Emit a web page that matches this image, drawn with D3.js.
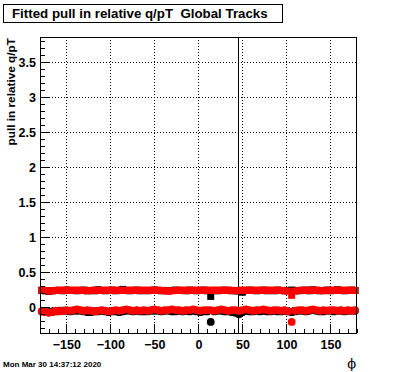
<!DOCTYPE html>
<html>
<head>
<meta charset="utf-8">
<script src="https://cdn.jsdelivr.net/npm/d3@7"></script>
<style>
  html, body { margin: 0; padding: 0; background: #fff; }
  svg { display: block; }
  text { font-family: "Liberation Sans", Arial, Helvetica, sans-serif; }
</style>
</head>
<body>
<svg id="chart" width="396" height="372"></svg>
<script>
// ---------------- data ----------------
const chartTitle = "Fitted pull in relative q/pT  Global Tracks";
const yTitle = "pull in relative q/pT";
const xTitle = "\u03d5";
const dateText = "Mon Mar 30 14:37:12 2020";

const xDomain = [-180, 180];
const yDomain = [-0.371, 3.861];
const xMajorTicks = [-150, -100, -50, 0, 50, 100, 150];
const yMajorTicks = [0, 0.5, 1, 1.5, 2, 2.5, 3, 3.5];
const markerLinePhi = 45;

// bin centres: 90 bins of 4 degrees
const phiStart = -178, phiStep = 4, nBins = 90;
const phiBins = d3.range(nBins).map(i => phiStart + i * phiStep);

// black series (circles = fitted mean, squares = fitted sigma)
const blackMean = [
  -0.06,-0.07,-0.07,-0.06,-0.06,-0.05,-0.05,-0.05,-0.06,-0.05,
  -0.05,-0.05,-0.06,-0.07,-0.07,-0.06,-0.06,-0.05,-0.06,-0.07,
  -0.06,-0.06,-0.07,-0.06,-0.05,-0.05,-0.06,-0.05,-0.06,-0.06,
  -0.06,-0.05,-0.05,-0.05,-0.06,-0.05,-0.05,-0.06,-0.06,-0.05,
  -0.06,-0.05,-0.06,-0.05,-0.06,-0.07,-0.06,-0.06,-0.21,-0.06,
  -0.05,-0.05,-0.06,-0.06,-0.07,-0.08,-0.10,-0.07,-0.05,-0.06,
  -0.06,-0.05,-0.06,-0.05,-0.06,-0.06,-0.05,-0.06,-0.06,-0.05,
  -0.06,-0.07,-0.06,-0.05,-0.05,-0.06,-0.05,-0.04,-0.05,-0.06,
  -0.06,-0.05,-0.05,-0.06,-0.05,-0.05,-0.06,-0.05,-0.05,-0.05
];
const blackSigma = [
  0.24,0.235,0.225,0.235,0.24,0.24,0.235,0.245,0.24,0.24,
  0.235,0.24,0.245,0.235,0.24,0.235,0.25,0.24,0.235,0.24,
  0.245,0.235,0.24,0.255,0.24,0.235,0.24,0.245,0.235,0.24,
  0.235,0.24,0.245,0.24,0.235,0.24,0.235,0.24,0.245,0.24,
  0.24,0.235,0.245,0.24,0.235,0.24,0.245,0.235,0.155,0.24,
  0.235,0.24,0.245,0.24,0.235,0.24,0.23,0.215,0.24,0.245,
  0.24,0.235,0.24,0.245,0.235,0.24,0.235,0.245,0.24,0.235,
  0.24,0.245,0.24,0.235,0.24,0.245,0.235,0.25,0.24,0.235,
  0.24,0.245,0.235,0.24,0.25,0.24,0.235,0.24,0.245,0.24
];
// red series
const redMean = [
  -0.06,-0.07,-0.08,-0.07,-0.05,-0.06,-0.05,-0.04,-0.05,-0.04,
  -0.03,-0.04,-0.05,-0.04,-0.05,-0.06,-0.05,-0.04,-0.05,-0.06,
  -0.05,-0.04,-0.05,-0.04,-0.03,-0.04,-0.05,-0.04,-0.05,-0.04,
  -0.05,-0.04,-0.03,-0.04,-0.05,-0.04,-0.04,-0.03,-0.04,-0.04,
  -0.05,-0.04,-0.04,-0.03,-0.04,-0.05,-0.04,-0.04,-0.04,-0.05,
  -0.04,-0.03,-0.04,-0.05,-0.04,-0.04,-0.05,-0.04,-0.03,-0.04,
  -0.05,-0.04,-0.04,-0.03,-0.04,-0.05,-0.04,-0.04,-0.05,-0.04,
  -0.06,-0.21,-0.05,-0.04,-0.04,-0.05,-0.04,-0.03,-0.04,-0.05,
  -0.04,-0.05,-0.04,-0.04,-0.05,-0.04,-0.05,-0.04,-0.05,-0.04
];
const redSigma = [
  0.245,0.24,0.23,0.235,0.24,0.245,0.24,0.245,0.24,0.245,
  0.24,0.245,0.24,0.235,0.24,0.245,0.24,0.24,0.245,0.24,
  0.245,0.24,0.245,0.24,0.24,0.245,0.24,0.245,0.24,0.245,
  0.24,0.245,0.24,0.245,0.24,0.235,0.23,0.235,0.24,0.245,
  0.24,0.245,0.24,0.245,0.24,0.245,0.24,0.245,0.24,0.245,
  0.24,0.245,0.24,0.245,0.24,0.235,0.24,0.245,0.24,0.245,
  0.24,0.245,0.24,0.245,0.24,0.245,0.24,0.245,0.24,0.235,
  0.23,0.17,0.23,0.24,0.245,0.24,0.245,0.24,0.245,0.24,
  0.235,0.24,0.245,0.24,0.245,0.24,0.245,0.24,0.245,0.24
];

// ---------------- layout ----------------
const svg = d3.select("#chart");
const W = 396, H = 372;
const plot = { left: 40, right: 356.8, top: 37, bottom: 333.2 };

svg.append("rect").attr("width", W).attr("height", H).attr("fill", "#fff");

const x = d3.scaleLinear().domain(xDomain).range([plot.left, plot.right]);
const y = d3.scaleLinear().domain(yDomain).range([plot.bottom, plot.top]);

// grid
const grid = svg.append("g").attr("stroke", "#000").attr("stroke-width", 1)
  .attr("stroke-dasharray", "1,2").attr("shape-rendering", "crispEdges");
grid.selectAll("line.gx").data(xMajorTicks).join("line")
  .attr("x1", d => Math.round(x(d)) + 0.5).attr("x2", d => Math.round(x(d)) + 0.5)
  .attr("y1", plot.top).attr("y2", plot.bottom);
grid.selectAll("line.gy").data(yMajorTicks).join("line")
  .attr("y1", d => Math.round(y(d)) + 0.5).attr("y2", d => Math.round(y(d)) + 0.5)
  .attr("x1", plot.left).attr("x2", plot.right);

// vertical marker line
svg.append("line")
  .attr("x1", Math.round(x(markerLinePhi)) + 0.5).attr("x2", Math.round(x(markerLinePhi)) + 0.5)
  .attr("y1", plot.top).attr("y2", plot.bottom)
  .attr("stroke", "#000").attr("stroke-width", 1).attr("shape-rendering", "crispEdges");

// markers
const R = 3.9, S = 7;
function drawCircles(vals, color) {
  svg.append("g").selectAll("circle").data(vals).join("circle")
    .attr("cx", (d, i) => x(phiBins[i])).attr("cy", d => y(d)).attr("r", R).attr("fill", color);
}
function drawSquares(vals, color) {
  svg.append("g").selectAll("rect").data(vals).join("rect")
    .attr("x", (d, i) => x(phiBins[i]) - S / 2).attr("y", d => y(d) - S / 2)
    .attr("width", S).attr("height", S).attr("fill", color);
}
drawCircles(blackMean, "#000");
drawSquares(blackSigma, "#000");
drawCircles(redMean, "#ff0000");
drawSquares(redSigma, "#ff0000");

// axes
const xMinor = d3.range(-180, 181, 10).filter(v => !xMajorTicks.includes(v));
const yMinor = d3.range(-3, 39).map(v => v / 10).filter(v => v >= yDomain[0] && v <= yDomain[1] && !yMajorTicks.some(m => Math.abs(m - v) < 1e-9));

const xAxis = d3.axisBottom(x).tickValues(xMajorTicks).tickSize(-9).tickPadding(6.6)
  .tickFormat(d => d3.format("")(d));
svg.append("g").attr("transform", `translate(0,${plot.bottom})`).call(xAxis);
svg.append("g").attr("transform", `translate(0,${plot.bottom})`)
  .call(d3.axisBottom(x).tickValues(xMinor).tickSize(-4.5).tickFormat(""));

const yAxis = d3.axisLeft(y).tickValues(yMajorTicks).tickSize(-9.5).tickPadding(4)
  .tickFormat(d => d3.format("")(d));
svg.append("g").attr("transform", `translate(${plot.left},0)`).call(yAxis);
svg.append("g").attr("transform", `translate(${plot.left},0)`)
  .call(d3.axisLeft(y).tickValues(yMinor).tickSize(-4.75).tickFormat(""));

svg.selectAll(".domain").remove();
svg.selectAll(".tick line").attr("stroke", "#000").attr("shape-rendering", "crispEdges");
svg.selectAll(".tick text").attr("fill", "#000")
  .style("font-family", "'Liberation Sans', Arial, sans-serif")
  .style("font-size", "12.5px").style("font-weight", "bold");

// frame
svg.append("rect")
  .attr("x", plot.left + 0.5).attr("y", plot.top + 0.5)
  .attr("width", plot.right - plot.left - 0.5).attr("height", plot.bottom - plot.top - 0.5)
  .attr("fill", "none").attr("stroke", "#000").attr("stroke-width", 1)
  .attr("shape-rendering", "crispEdges");

// title box
svg.append("rect").attr("x", 3.5).attr("y", 4.5).attr("width", 279).attr("height", 18)
  .attr("fill", "#fff").attr("stroke", "#000").attr("stroke-width", 1)
  .attr("shape-rendering", "crispEdges");
svg.append("text").attr("x", 12).attr("y", 18)
  .style("font-size", "13.3px").style("font-weight", "bold").style("white-space", "pre")
  .attr("xml:space", "preserve").attr("fill", "#000")
  .text(chartTitle);

// y title
svg.append("text")
  .attr("transform", `translate(15,${plot.top + 1}) rotate(-90)`)
  .attr("text-anchor", "end")
  .style("font-size", "11.8px").style("font-weight", "bold").attr("fill", "#000")
  .text(yTitle);

// x title
svg.append("text").attr("x", 356).attr("y", 368).attr("text-anchor", "end")
  .style("font-family", "'DejaVu Serif', 'Liberation Serif', serif")
  .style("font-size", "13px").attr("fill", "#000")
  .text(xTitle);

// date stamp
svg.append("text").attr("x", 3).attr("y", 367)
  .style("font-size", "8px").style("font-weight", "bold").attr("fill", "#000")
  .text(dateText);
</script>
</body>
</html>
